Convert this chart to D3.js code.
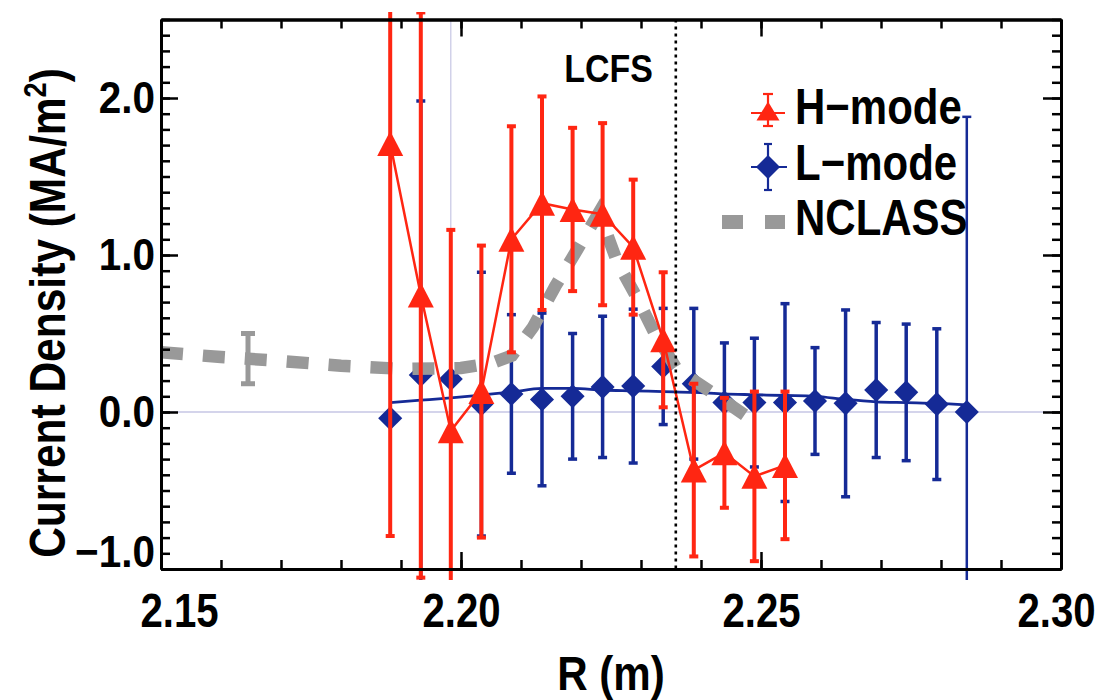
<!DOCTYPE html>
<html><head><meta charset="utf-8">
<script src="https://cdn.jsdelivr.net/npm/d3@7"></script>
<style>
body{margin:0;background:#fff}
text{font-family:'Liberation Sans',Arial,sans-serif;font-weight:bold;fill:#000}
</style></head><body>
<svg id="c" width="1103" height="700"></svg>
<script>
// ---------- data ----------
const hR   = [2.1882, 2.1933, 2.1983, 2.2034, 2.2084, 2.2135, 2.2186, 2.2236, 2.2287, 2.2337, 2.2388, 2.2439, 2.2489, 2.2540];
const hJ   = [1.71, 0.745, -0.12, 0.13, 1.10, 1.33, 1.29, 1.26, 1.05, 0.46, -0.37, -0.26, -0.41, -0.34];
const hErr = [2.50, 1.80, 1.28, 0.93, 0.72, 0.68, 0.52, 0.58, 0.43, 0.43, 0.55, 0.35, 0.54, 0.47];

const lR   = [2.1882, 2.1933, 2.1983, 2.2034, 2.2084, 2.2135, 2.2186, 2.2236, 2.2287, 2.2337, 2.2388, 2.2439, 2.2489, 2.2540, 2.2590, 2.2641, 2.2692, 2.2742, 2.2793, 2.2843];
const lJ   = [-0.04, 0.236, 0.21, 0.05, 0.115, 0.08, 0.10, 0.16, 0.165, 0.29, 0.18, 0.06, 0.06, 0.06, 0.07, 0.055, 0.14, 0.125, 0.05, 0.0];
const lErr = [0, 1.745, 0, 0.84, 0.505, 0.55, 0.40, 0.45, 0.49, 0.37, 0.48, 0.38, 0.41, 0.63, 0.34, 0.595, 0.43, 0.435, 0.48, 1.88];
const lFit = [0.06, 0.075, 0.09, 0.108, 0.127, 0.15, 0.15, 0.14, 0.135, 0.13, 0.125, 0.115, 0.11, 0.105, 0.10, 0.08, 0.065, 0.06, 0.055, 0.045];

const nR   = [2.150, 2.160, 2.170, 2.180, 2.190, 2.200, 2.205, 2.2085, 2.212, 2.2157, 2.2193, 2.2230, 2.226, 2.2293, 2.2323, 2.236, 2.242, 2.2477, 2.249];
const nJ   = [0.38, 0.35, 0.325, 0.295, 0.275, 0.28, 0.31, 0.36, 0.54, 0.80, 1.03, 1.27, 0.96, 0.73, 0.50, 0.27, 0.12, -0.03, -0.08];
const nBarR = [2.1645];
const nBarJ = [0.34];
const nBarErr = [0.16];

const lcfsR = 2.2358;
const refR  = 2.1983;
const xTicks = [2.15, 2.20, 2.25, 2.30];
const yTicks = [-1, 0, 1, 2];
const legendLabels = ["H\u2212mode", "L\u2212mode", "NCLASS"];

// ---------- setup ----------
const RED = "#ff2612", BLUE = "#152a96", GRAY = "#999999", LAV = "#c6c6e4";
const svg = d3.select("#c");
const x = d3.scaleLinear().domain([2.15, 2.30]).range([161, 1061]);
const y = d3.scaleLinear().domain([-1, 2.5]).range([569, 19.5]);
const xMinor = d3.range(0, 16).map(i => +(2.15 + i * 0.01).toFixed(3));
const yMinor = d3.range(-10, 26).map(i => i / 10);

// condensed-font look: squeeze glyphs horizontally about the text anchor
function condense(sel, k) {
  sel.each(function () {
    const t = d3.select(this);
    const ax = +t.attr("x") || 0;
    const pre = t.attr("transform") || "";
    t.attr("transform", `${pre} translate(${ax},0) scale(${k},1) translate(${-ax},0)`);
  });
}

svg.append("defs").append("clipPath").attr("id", "clip")
  .append("rect").attr("x", x.range()[0]).attr("y", 12)
  .attr("width", x.range()[1] - x.range()[0]).attr("height", 568);

const plot = svg.append("g").attr("clip-path", "url(#clip)");

// reference lines
plot.append("line").attr("x1", x.range()[0]).attr("x2", x.range()[1])
  .attr("y1", y(0)).attr("y2", y(0)).attr("stroke", LAV).attr("stroke-width", 1.6);
plot.append("line").attr("x1", x(refR)).attr("x2", x(refR))
  .attr("y1", y.range()[1]).attr("y2", y.range()[0]).attr("stroke", LAV).attr("stroke-width", 1.2);

// error bar helper
function errBars(g, R, J, E, color, w, cap, wFn) {
  const idx = d3.range(R.length).filter(i => E[i] > 0);
  const gg = g.append("g").attr("stroke", color).attr("fill", "none");
  idx.forEach(i => {
    const sw = wFn ? wFn(i) : w;
    const xi = x(R[i]), y1 = y(J[i] + E[i]), y0 = y(J[i] - E[i]);
    gg.append("line").attr("x1", xi).attr("x2", xi).attr("y1", y1).attr("y2", y0).attr("stroke-width", sw);
    [y1, y0].forEach(yy => gg.append("line").attr("x1", xi - cap / 2).attr("x2", xi + cap / 2)
      .attr("y1", yy).attr("y2", yy).attr("stroke-width", sw));
  });
}

// L-mode
errBars(plot, lR, lJ, lErr, BLUE, 3.5, 9, i => (i === lR.length - 1 ? 2.5 : 3.5));
plot.append("path").datum(d3.zip(lR, lFit))
  .attr("d", d3.line().x(d => x(d[0])).y(d => y(d[1])).curve(d3.curveMonotoneX))
  .attr("fill", "none").attr("stroke", BLUE).attr("stroke-width", 2.8);
const diamond = d3.symbol().type(d3.symbolSquare).size(290);
plot.append("g").selectAll("path").data(d3.zip(lR, lJ)).join("path")
  .attr("d", diamond).attr("fill", BLUE)
  .attr("transform", d => `translate(${x(d[0])},${y(d[1])}) rotate(45)`);

// NCLASS
plot.append("path").datum(d3.zip(nR, nJ))
  .attr("d", d3.line().x(d => x(d[0])).y(d => y(d[1])))
  .attr("fill", "none").attr("stroke", GRAY).attr("stroke-width", 12.5)
  .attr("stroke-dasharray", "22,20");
errBars(plot, nBarR, nBarJ, nBarErr, GRAY, 5, 14);

// H-mode
errBars(plot, hR, hJ, hErr, RED, 4, 9);
plot.append("path").datum(d3.zip(hR, hJ))
  .attr("d", d3.line().x(d => x(d[0])).y(d => y(d[1])))
  .attr("fill", "none").attr("stroke", RED).attr("stroke-width", 2.5);
const tri = (w, h) => ({ draw(ctx) { ctx.moveTo(0, -h / 2); ctx.lineTo(w / 2, h / 2); ctx.lineTo(-w / 2, h / 2); ctx.closePath(); } });
plot.append("g").selectAll("path").data(d3.zip(hR, hJ)).join("path")
  .attr("d", d3.symbol().type(tri(26, 25))).attr("fill", RED)
  .attr("transform", d => `translate(${x(d[0])},${y(d[1])})`);

// LCFS
svg.append("line").attr("x1", x(lcfsR)).attr("x2", x(lcfsR))
  .attr("y1", y.range()[1]).attr("y2", y.range()[0])
  .attr("stroke", "#000").attr("stroke-width", 2.6).attr("stroke-dasharray", "3,4");
svg.append("text").attr("x", x(lcfsR) - 23).attr("y", 82).attr("text-anchor", "end")
  .style("font-size", "39px").text("LCFS").call(condense, 0.87);

// ---------- axes ----------
function styleAx(g) {
  g.select(".domain").attr("stroke-width", 3);
  g.selectAll(".tick line").attr("stroke-width", 2.5);
}
const B = y.range()[0], T = y.range()[1], L = x.range()[0], Rr = x.range()[1];
svg.append("g").attr("transform", `translate(0,${B})`)
  .call(d3.axisBottom(x).tickValues(xMinor).tickSize(-9).tickSizeOuter(0).tickFormat("")).call(styleAx);
const xb = svg.append("g").attr("transform", `translate(0,${B})`)
  .call(d3.axisBottom(x).tickValues(xTicks).tickSize(-17).tickSizeOuter(0).tickPadding(23).tickFormat(d3.format(".2f"))).call(styleAx);
xb.selectAll("text").style("font-size", "49px").attr("fill", "#000");
xb.selectAll(".tick").filter(d => d === 2.15).select("text").attr("transform", "translate(18,0)");
xb.selectAll(".tick").filter(d => d === 2.30).select("text").attr("transform", "translate(-5,0)");
xb.selectAll("text").call(condense, 0.82);

svg.append("g").attr("transform", `translate(0,${T})`)
  .call(d3.axisTop(x).tickValues(xMinor).tickSize(-9).tickSizeOuter(0).tickFormat("")).call(styleAx);
svg.append("g").attr("transform", `translate(0,${T})`)
  .call(d3.axisTop(x).tickValues(xTicks).tickSize(-17).tickSizeOuter(0).tickFormat("")).call(styleAx);

svg.append("g").attr("transform", `translate(${L},0)`)
  .call(d3.axisLeft(y).tickValues(yMinor).tickSize(-9).tickSizeOuter(0).tickFormat("")).call(styleAx);
const yl = svg.append("g").attr("transform", `translate(${L},0)`)
  .call(d3.axisLeft(y).tickValues(yTicks).tickSize(-17).tickSizeOuter(0).tickPadding(6).tickFormat(d3.format(".1f"))).call(styleAx);
yl.selectAll("text").style("font-size", "44px").attr("fill", "#000");
yl.selectAll(".tick").filter(d => d === -1).select("text").attr("transform", "translate(0,-17)");
yl.selectAll("text").call(condense, 0.92);

svg.append("g").attr("transform", `translate(${Rr},0)`)
  .call(d3.axisRight(y).tickValues(yMinor).tickSize(-9).tickSizeOuter(0).tickFormat("")).call(styleAx);
svg.append("g").attr("transform", `translate(${Rr},0)`)
  .call(d3.axisRight(y).tickValues(yTicks).tickSize(-18).tickSizeOuter(0).tickFormat("")).call(styleAx);

// titles
svg.append("text").attr("x", (L + Rr) / 2).attr("y", 690).attr("text-anchor", "middle")
  .style("font-size", "49px").text("R (m)").call(condense, 0.86);
const yt = svg.append("text").attr("transform", "translate(65,313) rotate(-90) scale(0.85,1)")
  .attr("text-anchor", "middle").style("font-size", "50px");
yt.append("tspan").text("Current Density (MA/m");
yt.append("tspan").attr("dy", "-0.6em").style("font-size", "32px").text("2");
yt.append("tspan").attr("dy", "0.38em").text(")");

// ---------- legend ----------
const lg = svg.append("g").attr("transform", "translate(768,0)");
const rowY = [111, 167, 222], textY = [124, 180, 235];
// H-mode
lg.append("line").attr("x1", -17).attr("x2", 17).attr("y1", rowY[0] + 2).attr("y2", rowY[0] + 2).attr("stroke", RED).attr("stroke-width", 2);
lg.append("line").attr("x1", 0).attr("x2", 0).attr("y1", rowY[0] - 17).attr("y2", rowY[0] + 15).attr("stroke", RED).attr("stroke-width", 2.2);
[rowY[0] - 17, rowY[0] + 15].forEach(v => lg.append("line").attr("x1", -5).attr("x2", 5).attr("y1", v).attr("y2", v).attr("stroke", RED).attr("stroke-width", 2.2));
lg.append("path").attr("d", d3.symbol().type(tri(23, 19))).attr("fill", RED).attr("transform", `translate(0,${rowY[0]})`);
// L-mode
lg.append("line").attr("x1", -17).attr("x2", 19).attr("y1", rowY[1]).attr("y2", rowY[1]).attr("stroke", BLUE).attr("stroke-width", 2);
lg.append("line").attr("x1", 0).attr("x2", 0).attr("y1", rowY[1] - 23).attr("y2", rowY[1] + 23).attr("stroke", BLUE).attr("stroke-width", 2.2);
[rowY[1] - 23, rowY[1] + 23].forEach(v => lg.append("line").attr("x1", -4).attr("x2", 4).attr("y1", v).attr("y2", v).attr("stroke", BLUE).attr("stroke-width", 2.2));
lg.append("path").attr("d", diamond).attr("fill", BLUE).attr("transform", `translate(0,${rowY[1]}) rotate(45)`);
// NCLASS
lg.append("line").attr("x1", -46).attr("x2", 17).attr("y1", rowY[2]).attr("y2", rowY[2])
  .attr("stroke", GRAY).attr("stroke-width", 14).attr("stroke-dasharray", "21,22");
lg.selectAll("text.lab").data(legendLabels).join("text").attr("class", "lab")
  .attr("x", 27).attr("y", (d, i) => textY[i]).style("font-size", "50px").text(d => d)
  .call(condense, 0.84);
</script>
</body></html>
